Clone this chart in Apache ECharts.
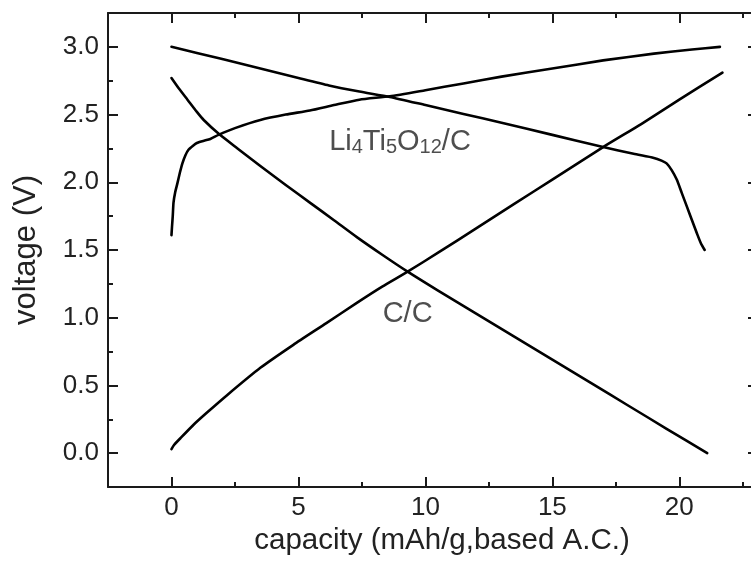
<!DOCTYPE html>
<html>
<head>
<meta charset="utf-8">
<script src="https://cdn.jsdelivr.net/npm/echarts@6/dist/echarts.min.js"></script>
<style>
html,body{margin:0;padding:0;background:#fff;}
#chart{width:751px;height:562px;}
</style>
</head>
<body>
<div id="chart"></div>
<script>
// Data
var ltoCharge = [[0,1.61],[0.02,1.67],[0.05,1.75],[0.08,1.85],[0.15,1.93],[0.23,1.99],[0.33,2.07],[0.43,2.14],[0.55,2.2],[0.67,2.24],[0.85,2.27],[1.0,2.29],[1.25,2.305],[1.53,2.32],[1.85,2.35],[2.5,2.40],[3.5,2.46],[4.5,2.50],[5.45,2.53],[6.4,2.57],[7.4,2.61],[8.6,2.635],[10,2.68],[11.5,2.73],[13,2.78],[15,2.84],[17,2.90],[19,2.95],[20.5,2.98],[21.6,3.0]];
var ltoDischarge = [[0,3.0],[1,2.955],[2,2.91],[3.5,2.84],[5,2.77],[6.2,2.715],[7.4,2.67],[8.6,2.63],[10,2.57],[11.5,2.505],[13,2.44],[15,2.35],[17,2.26],[18.2,2.21],[19.0,2.18],[19.3,2.16],[19.5,2.14],[19.7,2.09],[19.9,2.02],[20.1,1.92],[20.3,1.82],[20.5,1.72],[20.7,1.62],[20.85,1.55],[21.0,1.50]];
var ccDischarge = [[0,2.77],[0.3,2.69],[0.63,2.61],[1.0,2.52],[1.27,2.46],[1.85,2.36],[2.6,2.25],[3.5,2.12],[4.5,1.98],[5.45,1.85],[6.4,1.72],[7.3,1.595],[8.3,1.465],[9.3,1.34],[10.5,1.20],[12,1.03],[13.5,0.86],[15,0.69],[16.5,0.52],[18,0.35],[19.5,0.18],[21.1,0.0]];
var ccCharge = [[0,0.03],[0.1,0.06],[0.35,0.11],[0.87,0.21],[1.4,0.30],[2.2,0.43],[3.5,0.63],[4.8,0.80],[6.1,0.96],[7.3,1.11],[8.3,1.23],[9.3,1.34],[10.5,1.48],[12,1.66],[13.5,1.84],[15,2.02],[17,2.26],[18.5,2.43],[20,2.61],[21.7,2.81]];

var xMajorTicks = [0, 5, 10, 15, 20];
var xMinorTicks = [2.5, 7.5, 12.5, 17.5, 22.5];
var yMajorTicks = [0, 0.5, 1.0, 1.5, 2.0, 2.5, 3.0];
var yMinorTicks = [0.25, 0.75, 1.25, 1.75, 2.25, 2.75];

var ltoLabelPos = [9.0, 2.30];
var ccLabelPos = [9.3, 1.03];

var xTitle = 'capacity (mAh/g,based A.C.)';
var yTitle = 'voltage (V)';

var FONT = '"Liberation Sans", Arial, Helvetica, sans-serif';
var TXT = '#222';
var AX = '#1a1a1a';

function xAx(pos, ticks, len, labels, show) {
  return {
    type: 'value', position: pos, min: -2.5, max: 23.1,
    axisLine: {show: show, onZero: false, lineStyle: {color: AX, width: 2}},
    axisTick: {show: true, inside: true, length: len, customValues: ticks, lineStyle: {color: AX, width: 2}},
    axisLabel: labels ? {show: true, customValues: ticks, margin: 8, fontSize: 26, color: TXT, fontFamily: FONT} : {show: false},
    splitLine: {show: false}
  };
}
function yAx(pos, ticks, len, labels, show) {
  return {
    type: 'value', position: pos, min: -0.25, max: 3.25,
    axisLine: {show: show, onZero: false, lineStyle: {color: AX, width: 2}},
    axisTick: {show: true, inside: true, length: len, customValues: ticks, lineStyle: {color: AX, width: 2}},
    axisLabel: labels ? {show: true, customValues: ticks, margin: 9, fontSize: 26, color: TXT, fontFamily: FONT,
      formatter: function (v) { return v.toFixed(1); }} : {show: false},
    splitLine: {show: false}
  };
}

var xAxes = [
  xAx('bottom', xMajorTicks, 10, true, true),
  xAx('bottom', xMinorTicks, 5, false, false),
  xAx('top', xMajorTicks, 10, false, true),
  xAx('top', xMinorTicks, 5, false, false)
];
xAxes[0].name = xTitle;
xAxes[0].nameLocation = 'middle';
xAxes[0].nameGap = 34;
xAxes[0].nameTextStyle = {fontSize: 29.5, color: TXT, fontFamily: FONT, padding: [0, 0, 0, 18]};

var yAxes = [
  yAx('left', yMajorTicks, 10, true, true),
  yAx('left', yMinorTicks, 5, false, false),
  yAx('right', yMajorTicks, 10, false, true),
  yAx('right', yMinorTicks, 5, false, false)
];
yAxes[0].name = yTitle;
yAxes[0].nameLocation = 'middle';
yAxes[0].nameGap = 66;
yAxes[0].nameTextStyle = {fontSize: 31, color: TXT, fontFamily: FONT};

function lineSeries(data) {
  return {
    type: 'line', data: data, showSymbol: false, symbol: 'none',
    smooth: 0.2,
    lineStyle: {color: '#000', width: 2.6, join: 'round', cap: 'round'}, animation: false, silent: true
  };
}

var chart = echarts.init(document.getElementById('chart'), null, {renderer: 'canvas'});
chart.setOption({
  backgroundColor: '#fff',
  animation: false,
  grid: {left: 108, right: -7, top: 13, bottom: 75, containLabel: false, outerBoundsMode: 'none'},
  xAxis: xAxes,
  yAxis: yAxes,
  series: [
    lineSeries(ltoCharge),
    lineSeries(ltoDischarge),
    lineSeries(ccDischarge),
    lineSeries(ccCharge),
    {
      type: 'scatter', symbolSize: 0, silent: true,
      data: [{value: ltoLabelPos, label: {formatter: 'Li{s|4}Ti{s|5}O{s|12}/C'}},
             {value: ccLabelPos, label: {formatter: 'C/C'}}],
      label: {
        show: true, position: 'inside', fontSize: 29, color: TXT, fontFamily: FONT, lineHeight: 32,
        rich: {s: {fontSize: 20, lineHeight: 20, verticalAlign: 'bottom', color: TXT, fontFamily: FONT}}
      }
    }
  ]
});
</script>
</body>
</html>
